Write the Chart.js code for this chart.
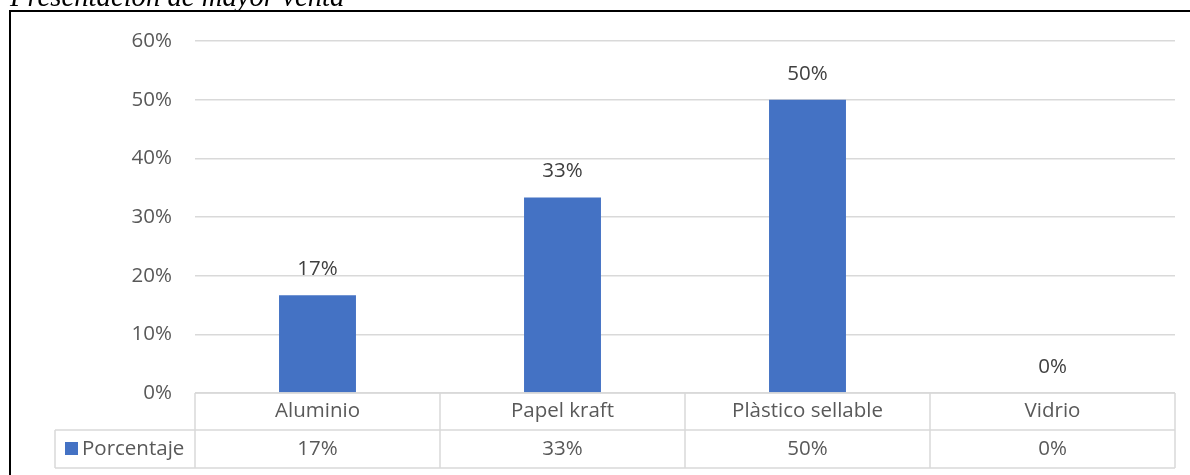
<!DOCTYPE html>
<html>
<head>
<meta charset="utf-8">
<script src="https://cdn.jsdelivr.net/npm/chart.js@4"></script>
<style>
  html, body { margin: 0; padding: 0; background: #fff; }
  #wrap { position: relative; width: 1190px; height: 475px; }
</style>
</head>
<body>
<div id="wrap"><canvas id="myChart" width="1190" height="475"></canvas></div>
<script>
// data
const title = "Presentación de mayor venta";
const categories = ["Aluminio", "Papel kraft", "Plàstico sellable", "Vidrio"];
const seriesName = "Porcentaje";
const values = [16.67, 33.33, 50, 0];
const valueLabels = ["17%", "33%", "50%", "0%"];
const yTicks = [0, 10, 20, 30, 40, 50, 60];

const barColor = "#4472c4";
const gridColor = "#d9d9d9";
const textColor = "#595959";
const font = "Open Sans";
const fontSize = 20.5;

// table under the chart + value labels + title/frame
const tablePlugin = {
  id: "tablePlugin",
  afterDraw(chart) {
    const ctx = chart.ctx;
    const area = chart.chartArea;
    const x = chart.scales.x;
    const row1 = area.bottom + 37;
    const row2 = area.bottom + 75;
    const headLeft = 55;

    ctx.save();
    // frame + title
    ctx.strokeStyle = "#000";
    ctx.lineWidth = 2;
    ctx.beginPath();
    ctx.moveTo(10, 11);
    ctx.lineTo(10, 475);
    ctx.moveTo(9, 11);
    ctx.lineTo(1190, 11);
    ctx.stroke();

    ctx.fillStyle = "#000";
    ctx.font = "italic 28.7px 'Liberation Serif'";
    ctx.textAlign = "left";
    ctx.textBaseline = "alphabetic";
    ctx.fillText(title, 10, 6);

    // value labels above bars
    const meta = chart.getDatasetMeta(0);
    ctx.font = fontSize + "px '" + font + "'";
    ctx.fillStyle = "#404040";
    ctx.textAlign = "center";
    ctx.textBaseline = "middle";
    meta.data.forEach((bar, i) => {
      ctx.fillText(valueLabels[i], bar.x, bar.y - 26);
    });

    // table lines
    ctx.strokeStyle = gridColor;
    ctx.lineWidth = 1.5;
    ctx.beginPath();
    ctx.moveTo(area.left, area.bottom);
    ctx.lineTo(area.right, area.bottom);
    ctx.moveTo(headLeft, row1);
    ctx.lineTo(area.right, row1);
    ctx.moveTo(headLeft, row2);
    ctx.lineTo(area.right, row2);
    ctx.moveTo(headLeft, row1);
    ctx.lineTo(headLeft, row2);
    const bounds = [area.left];
    for (let i = 1; i < categories.length; i++) {
      bounds.push((x.getPixelForValue(i - 1) + x.getPixelForValue(i)) / 2);
    }
    bounds.push(area.right);
    bounds.forEach((bx) => {
      ctx.moveTo(bx, area.bottom);
      ctx.lineTo(bx, row2);
    });
    ctx.stroke();

    // table text
    ctx.fillStyle = textColor;
    ctx.textAlign = "center";
    categories.forEach((c, i) => {
      const cx = x.getPixelForValue(i);
      ctx.fillText(c, cx, (area.bottom + row1) / 2);
      ctx.fillText(valueLabels[i], cx, (row1 + row2) / 2);
    });

    // legend key
    ctx.fillStyle = barColor;
    ctx.fillRect(65, 442, 13, 13);
    ctx.fillStyle = textColor;
    ctx.textAlign = "left";
    ctx.fillText(seriesName, 82, (row1 + row2) / 2);
    ctx.restore();
  },
};

const ctx = document.getElementById("myChart").getContext("2d");
new Chart(ctx, {
  type: "bar",
  data: {
    labels: categories,
    datasets: [
      {
        label: seriesName,
        data: values,
        backgroundColor: barColor,
        categoryPercentage: 1,
        barPercentage: 0.314,
      },
    ],
  },
  options: {
    responsive: false,
    animation: false,
    layout: { padding: { top: 41, left: 0, right: 15, bottom: 7 } },
    plugins: {
      legend: { display: false },
      tooltip: { enabled: false },
    },
    scales: {
      x: {
        grid: { display: false },
        border: { display: false },
        ticks: { display: false },
        afterFit(scale) {
          scale.height = 75;
        },
      },
      y: {
        min: yTicks[0],
        max: yTicks[yTicks.length - 1],
        afterBuildTicks(scale) {
          scale.ticks = yTicks.map((v) => ({ value: v }));
        },
        grid: { color: gridColor, lineWidth: 1.5, drawTicks: false },
        border: { display: false },
        ticks: {
          color: textColor,
          font: { family: font, size: fontSize },
          padding: 23,
          callback: (v) => v + "%",
        },
        afterFit(scale) {
          scale.width = 195;
        },
      },
    },
  },
  plugins: [tablePlugin],
});
</script>
</body>
</html>
